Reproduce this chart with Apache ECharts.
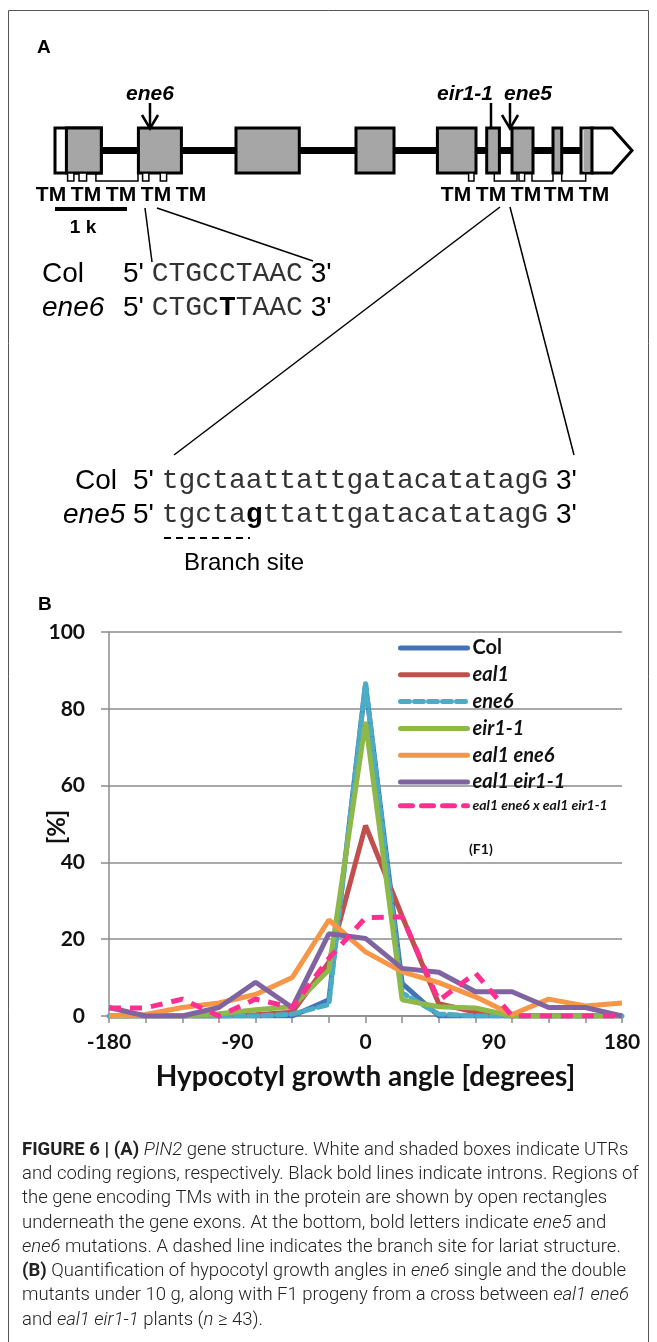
<!DOCTYPE html>
<html>
<head>
<meta charset="utf-8">
<script src="https://cdn.jsdelivr.net/npm/echarts@6/dist/echarts.min.js"></script>
<style>
html,body{margin:0;padding:0;background:#fff;}
#c{width:657px;height:1342px;}
</style>
</head>
<body>
<div id="c"></div>
<script>
// ---------- data (panel B) ----------
const angles = ['-180','-154','-129','-103','-77','-51','-26','0','26','51','77','103','129','154','180'];
const seriesNames = ['Col','eal1','ene6','eir1-1','eal1 ene6','eal1 eir1-1','eal1 ene6 x eal1 eir1-1'];
const valCol      = [0,0,0,0,0,0,4.2,86.4,8.5,0,0,0,0,0,0];
const valEal1     = [0,0,0,0,0.3,1,14,49.6,26,3.2,1,0,0,0,0];
const valEne6     = [0,0,0,0,0,0.5,3,86.8,6,0.5,0,0,0,0,0];
const valEir1     = [0,0,0,0.6,1.6,2.4,12,76.6,4.2,2.4,2.1,0,0,0,0];
const valEal1Ene6 = [0,0.4,2.2,3.4,5.6,10,25,16.7,11.5,8.7,5,0.4,4.4,2.6,3.4];
const valEal1Eir1 = [2.2,0,0,2.2,8.8,2.2,21.4,20.2,12.4,11.4,6.3,6.3,2.2,2.2,0];
const valF1       = [2.1,2.1,4.4,0,4.4,2.2,15,25.6,25.8,4,11.2,0,0,0,0];
const xTickLabels = [-180,-90,0,90,180];
const yTickLabels = [0,20,40,60,80,100];

// ---------- helpers ----------
const ARIAL = "'Liberation Sans', Arial, sans-serif";
const MONO  = "'Liberation Mono', 'Courier New', monospace";
const CAL   = "Lato, 'Open Sans', sans-serif";
const CAP   = "Roboto, 'Liberation Sans', sans-serif";
const G = [];
function txt(x, y, text, size, o) {
  o = o || {};
  G.push({type:'text', x:x, y:y, rotation:o.rotation||0, silent:true, z:10, style:{
    text:text, fontSize:size, fontWeight:o.weight||'normal', fontStyle:o.style||'normal',
    fontFamily:o.family||ARIAL, align:o.align||'left', verticalAlign:'middle',
    fill:o.fill||'#000', rich:o.rich}});
}
function line(x1,y1,x2,y2,w,o){ o=o||{};
  G.push({type:'line', silent:true, z:5, shape:{x1:x1,y1:y1,x2:x2,y2:y2}, style:{stroke:o.color||'#000', lineWidth:w, lineDash:o.dash||null}});
}
function rect(x,y,w,h,fill,lw){
  G.push({type:'rect', silent:true, z:6, shape:{x:x,y:y,width:w,height:h}, style:{fill:fill, stroke:'#000', lineWidth:lw}});
}
function poly(points, lw, fill){
  G.push({type: fill ? 'polygon':'polyline', silent:true, z:6, shape:{points:points}, style:{fill: fill||null, stroke:'#000', lineWidth:lw}});
}

// frame
G.push({type:'rect', silent:true, z:1, shape:{x:8.5,y:10.5,width:640,height:1345}, style:{fill:null, stroke:'#555', lineWidth:1}});

// ---------- panel A ----------
txt(37, 48, 'A', 19, {weight:'bold'});
txt(150, 94, 'ene6', 21, {weight:'bold', style:'italic', align:'center'});
txt(465, 94, 'eir1-1', 21, {weight:'bold', style:'italic', align:'center'});
txt(528, 94, 'ene5', 21, {weight:'bold', style:'italic', align:'center'});
// gene line (introns)
line(101, 150.5, 585, 150.5, 7);
// exons
rect(55, 128, 46.3, 45, '#fff', 3);
rect(66.4, 128, 34.9, 45, '#a6a6a6', 3);
[[138.4,181.4],[236,299.3],[356,394],[437.4,476],[486.7,499.4],[512,533],[553,561.7]].forEach(function(e){
  rect(e[0], 128, e[1]-e[0], 45, '#a6a6a6', 3);
});
rect(581, 128, 11, 45, '#fff', 3);
rect(583.5, 129.5, 7, 42, '#a6a6a6', 0);
poly([[592,128],[612,128],[632,150.5],[612,173],[592,173]], 3, '#fff');
// arrows / marker lines
function arrow(x){ line(x, 103, x, 128, 2.5); poly([[x-8,115],[x,128.5],[x+8,115]], 2.5); }
arrow(150); arrow(510);
line(491, 103, 491, 128, 2.5);
// TM boxes and brackets
[[67.6,73.9],[79,86.6],[142.6,148.9],[160.3,166.6],[468.6,474],[519,524.6]].forEach(function(t){
  rect(t[0], 173, t[1]-t[0], 8, '#fff', 1.5);
});
[[95.9,138],[494.3,517],[532,553],[561.7,585.7]].forEach(function(t){
  poly([[t[0],173],[t[0],181],[t[1],181],[t[1],173]], 1.5);
});
[51,86,121,156,191,456,491,526,559,594].forEach(function(cx){
  txt(cx, 195, 'TM', 21, {weight:'bold', align:'center'});
});
// scale bar
line(55, 209, 127, 209, 4);
txt(83, 228, '1 k', 19, {weight:'bold', align:'center'});
// connector lines
line(145, 208, 152, 262, 1.5);
line(157, 208, 313, 261, 1.5);
line(500, 207, 174, 455, 1.5);
line(510, 207, 574, 455, 1.5);
// sequences
const richSeq = {
  a:{fontFamily:ARIAL, fontSize:28, fill:'#000'},
  m:{fontFamily:MONO, fontSize:28, fill:'#333'},
  b:{fontFamily:MONO, fontSize:28, fontWeight:'bold', fill:'#000'}
};
txt(42, 274, 'Col', 28);
txt(123, 274, "{a|5'} {m|CTGCCTAAC} {a|3'}", 28, {rich:richSeq});
txt(42, 308, 'ene6', 28, {style:'italic'});
txt(123, 308, "{a|5'} {m|CTGC}{b|T}{m|TAAC} {a|3'}", 28, {rich:richSeq});
txt(75, 481, 'Col', 28);
txt(133, 481, "{a|5'} {m|tgctaattattgatacatatagG} {a|3'}", 28, {rich:richSeq});
txt(63, 515, 'ene5', 28, {style:'italic'});
txt(133, 515, "{a|5'} {m|tgcta}{b|g}{m|ttattgatacatatagG} {a|3'}", 28, {rich:richSeq});
line(164, 538, 250, 538, 2, {dash:[7,5]});
txt(184, 563, 'Branch site', 24);

// ---------- panel B labels ----------
txt(38, 605, 'B', 19, {weight:'bold'});
txt(469, 849, '(F1)', 14, {weight:'bold', family:CAL, fill:'#111'});
txt(57, 827, '[%]', 24, {weight:'bold', family:CAL, fill:'#111', align:'center', rotation:Math.PI/2});

// ---------- caption ----------
const ctx = document.createElement('canvas').getContext('2d');
ctx.font = '300 100px ' + CAP;
const capRef = 'and coding regions, respectively. Black bold lines indicate introns. Regions of';
const capSize = Math.min(19, 100 * 617 / ctx.measureText(capRef).width);
const capRich = {
  b:{fontFamily:CAP, fontSize:capSize, fontWeight:'bold', fill:'#222'},
  i:{fontFamily:CAP, fontSize:capSize, fontWeight:300, fontStyle:'italic', fill:'#222'},
  r:{fontFamily:CAP, fontSize:capSize, fontWeight:300, fill:'#222'}
};
const capLines = [
  '{b|FIGURE 6 | (A)}{r| }{i|PIN2}{r| gene structure. White and shaded boxes indicate UTRs}',
  '{r|and coding regions, respectively. Black bold lines indicate introns. Regions of}',
  '{r|the gene encoding TMs with in the protein are shown by open rectangles}',
  '{r|underneath the gene exons. At the bottom, bold letters indicate }{i|ene5}{r| and}',
  '{i|ene6}{r| mutations. A dashed line indicates the branch site for lariat structure.}',
  '{b|(B)}{r| Quantification of hypocotyl growth angles in }{i|ene6}{r| single and the double}',
  '{r|mutants under 10 g, along with F1 progeny from a cross between }{i|eal1 ene6}',
  '{r|and }{i|eal1 eir1-1}{r| plants (}{i|n}{r| ≥ 43).}'
];
capLines.forEach(function(s, i){
  txt(22, 1150 + i*24.3, s, capSize, {family:CAP, rich:capRich, fill:'#222'});
});

// ---------- chart ----------
const colors = ['#4472B8','#C0504D','#4BACC6','#8DB84A','#F79646','#8064A2','#FF2F92'];
const lineTypes = ['solid','solid',[9,5],'solid','solid','solid',[12,9]];
const values = [valCol, valEal1, valEne6, valEir1, valEal1Ene6, valEal1Eir1, valF1];
const gridColor = '#8c8c8c';

const chart = echarts.init(document.getElementById('c'), null, {renderer:'canvas'});
chart.setOption({
  animation:false,
  backgroundColor:'#fff',
  grid:{left:109, top:632, width:513, height:384},
  legend:{
    data:seriesNames, orient:'vertical', left:393, top:633,
    itemWidth:67, itemHeight:14, itemGap:6.8, selectedMode:false,
    itemStyle:{opacity:0},
    lineStyle:{width:5, cap:'round'},
    formatter:function(n){
      if (n === 'Col') return '{n|Col}';
      if (n.indexOf(' x ') > 0) return '{s|' + n + '}';
      return '{i|' + n + '}';
    },
    textStyle:{fontFamily:CAL, fontWeight:'bold', fontSize:20, color:'#111',
      rich:{
        n:{fontFamily:CAL, fontWeight:'bold', fontSize:20, lineHeight:24, color:'#111'},
        i:{fontFamily:CAL, fontWeight:'bold', fontStyle:'italic', fontSize:20, lineHeight:24, color:'#111'},
        s:{fontFamily:CAL, fontWeight:'bold', fontStyle:'italic', fontSize:14, lineHeight:24, color:'#111'}
      }}
  },
  xAxis:[
    {type:'category', data:angles, boundaryGap:false, position:'bottom',
     axisLine:{onZero:false, lineStyle:{color:gridColor, width:1.5}},
     axisTick:{show:true, interval:0, length:7, lineStyle:{color:gridColor, width:1.5}},
     axisLabel:{show:false}, splitLine:{show:false}},
    {type:'value', min:xTickLabels[0], max:xTickLabels[xTickLabels.length-1], interval:90, position:'bottom',
     axisLine:{show:false, onZero:false}, axisTick:{show:false}, splitLine:{show:false},
     axisLabel:{fontFamily:CAL, fontWeight:'bold', fontSize:21, color:'#111', margin:16,
       formatter:function(v){ return xTickLabels.indexOf(v) >= 0 ? String(v) : ''; }},
     name:'Hypocotyl growth angle [degrees]', nameLocation:'middle', nameGap:47,
     nameTextStyle:{fontFamily:CAL, fontWeight:'bold', fontSize:28, color:'#111'}}
  ],
  yAxis:{type:'value', min:yTickLabels[0], max:yTickLabels[yTickLabels.length-1], interval:20,
    axisLine:{show:true, onZero:false, lineStyle:{color:gridColor, width:1.5}},
    axisTick:{show:true, length:8, lineStyle:{color:gridColor, width:1.5}},
    splitLine:{lineStyle:{color:gridColor, width:1.5}},
    axisLabel:{fontFamily:CAL, fontWeight:'bold', fontSize:21, color:'#111', margin:24}},
  series: seriesNames.map(function(n, i){
    return {type:'line', name:n, data:values[i], xAxisIndex:0, symbol:'none',
      lineStyle:{color:colors[i], width:5, type:lineTypes[i], cap: (i===2 ? 'round' : 'butt')},
      itemStyle:{color:colors[i]}, z:2+i};
  }),
  graphic:{elements:G}
});
</script>
</body>
</html>
